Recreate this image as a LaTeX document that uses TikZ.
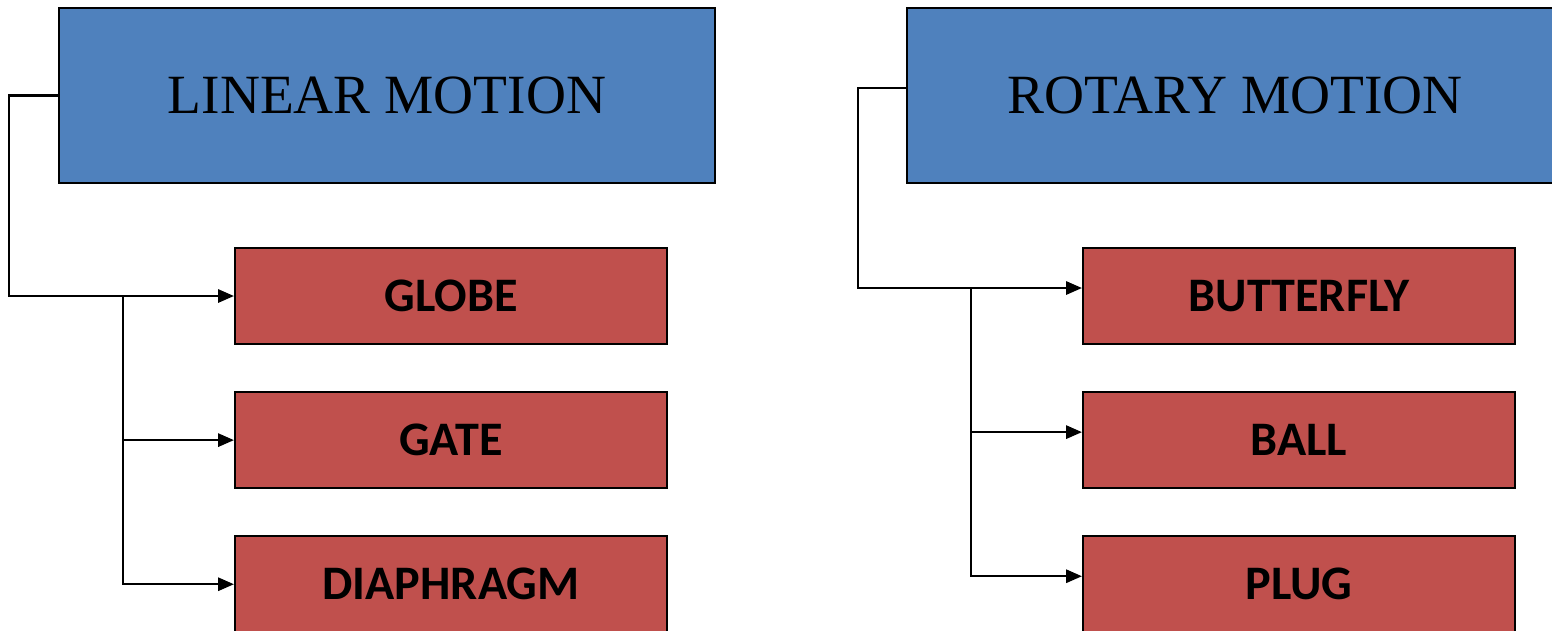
\documentclass[tikz,border=0pt]{standalone}
\usepackage{fontspec}
\setmainfont{Liberation Serif}
\newfontfamily\boxfont{Carlito}
\usepackage{tikz}
\usetikzlibrary{arrows.meta}
\usetikzlibrary{positioning}
\definecolor{headblue}{HTML}{4F81BD}
\definecolor{itemred}{HTML}{C0504D}
\tikzset{head/.style = {draw, line width = 1.2pt, fill = headblue, minimum width = 13.12cm, minimum height = 3.5cm, inner sep = 0, font = \fontsize{31.5}{38}\selectfont}}
\tikzset{item/.style = {draw, line width = 1.2pt, fill = itemred, minimum width = 8.64cm, minimum height = 1.92cm, inner sep = 0, font = \boxfont\bfseries\fontsize{27.4}{33}\selectfont}}
\tikzset{arr/.style = {line width = 1.3pt, -{Triangle[length = 9pt, width = 7.5pt]}}}

\begin{document}
\begin{tikzpicture}
    \useasboundingbox (0, 0) rectangle (31.04, -12.6);
    \clip (0, 0) rectangle (31.04, -12.6);
    \node [head] (linear) at (7.74, -1.91) {LINEAR MOTION};
    \node [head] (rotary) at (24.7, -1.91) {ROTARY MOTION};
    \node [item] (globe) at (9.02, -5.92) {GLOBE};
    \node [item, below = 0.92cm of globe] (gate) {GATE};
    \node [item, below = 0.92cm of gate] (diaphragm) {DIAPHRAGM};
    \node [item] (butterfly) at (25.98, -5.92) {BUTTERFLY};
    \node [item, below = 0.92cm of butterfly] (ball) {BALL};
    \node [item, below = 0.92cm of ball] (plug) {PLUG};
    \draw [arr] (linear.west) -- ++(-0.98, 0) |- (globe.west);
    \coordinate (lsplit) at (2.46, -5.92);
    \draw [arr] (lsplit) |- (gate.west);
    \draw [arr] (lsplit) |- (diaphragm.west);
    \draw [arr] ([yshift = 0.15cm] rotary.west) -- ++(-0.96, 0) |- ([yshift = 0.16cm] butterfly.west);
    \coordinate (rsplit) at (19.42, -5.76);
    \draw [arr] (rsplit) |- ([yshift = 0.16cm] ball.west);
    \draw [arr] (rsplit) |- ([yshift = 0.16cm] plug.west);
  \end{tikzpicture}
\end{document}
